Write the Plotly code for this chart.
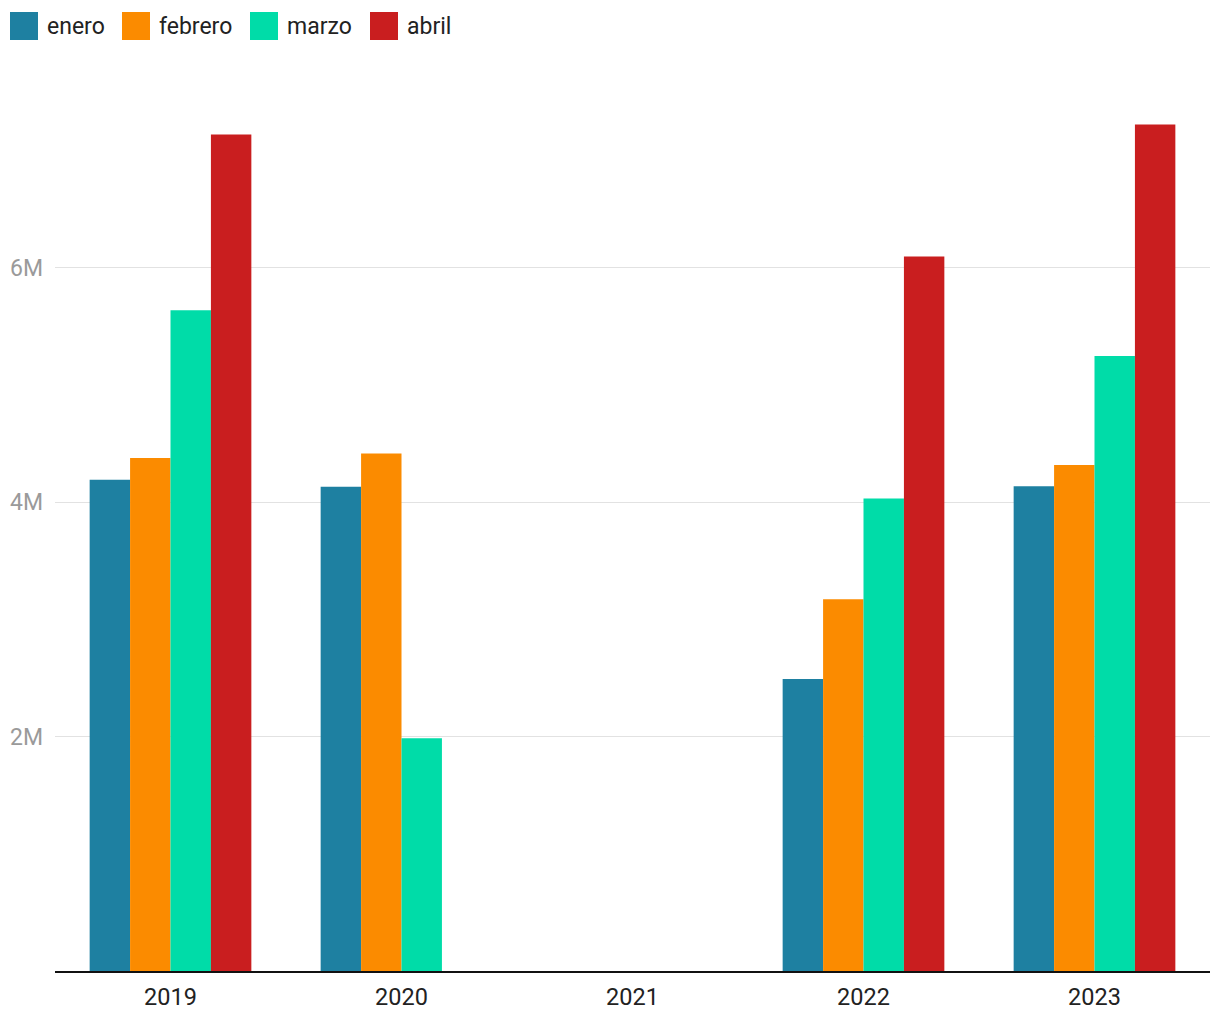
import plotly.graph_objects as go

years = ["2019", "2020", "2021", "2022", "2023"]
enero = [4.19e6, 4.13e6, None, 2.49e6, 4.135e6]
febrero = [4.375e6, 4.415e6, None, 3.17e6, 4.315e6]
marzo = [5.635e6, 1.985e6, None, 4.03e6, 5.245e6]
abril = [7.135e6, None, None, 6.095e6, 7.22e6]

series_names = ["enero", "febrero", "marzo", "abril"]
series_values = [enero, febrero, marzo, abril]
colors = ["#1e80a1", "#fb8b00", "#00dca8", "#c91e1f"]

tick_vals = [2e6, 4e6, 6e6]
tick_text = ["2M", "4M", "6M"]

# page has an 8px body margin, so figure coordinates are shifted by 8px
OFF = 8
W, H = 1220, 1020
ML, MR, MT, MB = 55 - OFF, 18, 80 - OFF, 57
PW = W - ML - MR
PH = H - MT - MB

fig = go.Figure()
for name, vals, col in zip(series_names, series_values, colors):
    fig.add_trace(go.Bar(x=years, y=vals, name=name, marker_color=col,
                         marker_line_width=0, showlegend=False))

def px_x(px):
    return (px - OFF - ML) / PW

def px_y(py):
    return (H - MB - (py - OFF)) / PH

# custom legend
legend_sq = [10, 122, 250, 370]
shapes = []
annotations = []
for name, col, sx in zip(series_names, colors, legend_sq):
    shapes.append(dict(type="rect", xref="paper", yref="paper",
                       x0=px_x(sx), x1=px_x(sx + 28), y0=px_y(40), y1=px_y(12),
                       fillcolor=col, line_width=0))
    annotations.append(dict(xref="paper", yref="paper", x=px_x(sx + 35), y=px_y(26),
                            text=name, showarrow=False, xanchor="left", yanchor="middle",
                            font=dict(family="Roboto", size=23, color="#222222")))

fig.update_layout(
    width=W, height=H,
    margin=dict(l=ML, r=MR, t=MT, b=MB, autoexpand=False),
    paper_bgcolor="white", plot_bgcolor="white",
    barmode="group", bargap=0.3, bargroupgap=0,
    font=dict(family="Roboto", size=23, color="#222222"),
    shapes=shapes, annotations=annotations,
    xaxis=dict(showgrid=False, showline=True, linecolor="#111111", linewidth=2,
               tickfont=dict(size=23.5, color="#222222"), ticks="", fixedrange=True,
               ticklabelstandoff=4, automargin=False),
    yaxis=dict(range=[0, 7.6e6], tickvals=tick_vals, ticktext=tick_text,
               showgrid=True, gridcolor="#e2e2e2", gridwidth=1, zeroline=False,
               showline=False, tickfont=dict(size=23, color="#9a9a9a"), ticks="",
               ticklabelstandoff=11, automargin=False),
)

fig.write_html("out.html")
